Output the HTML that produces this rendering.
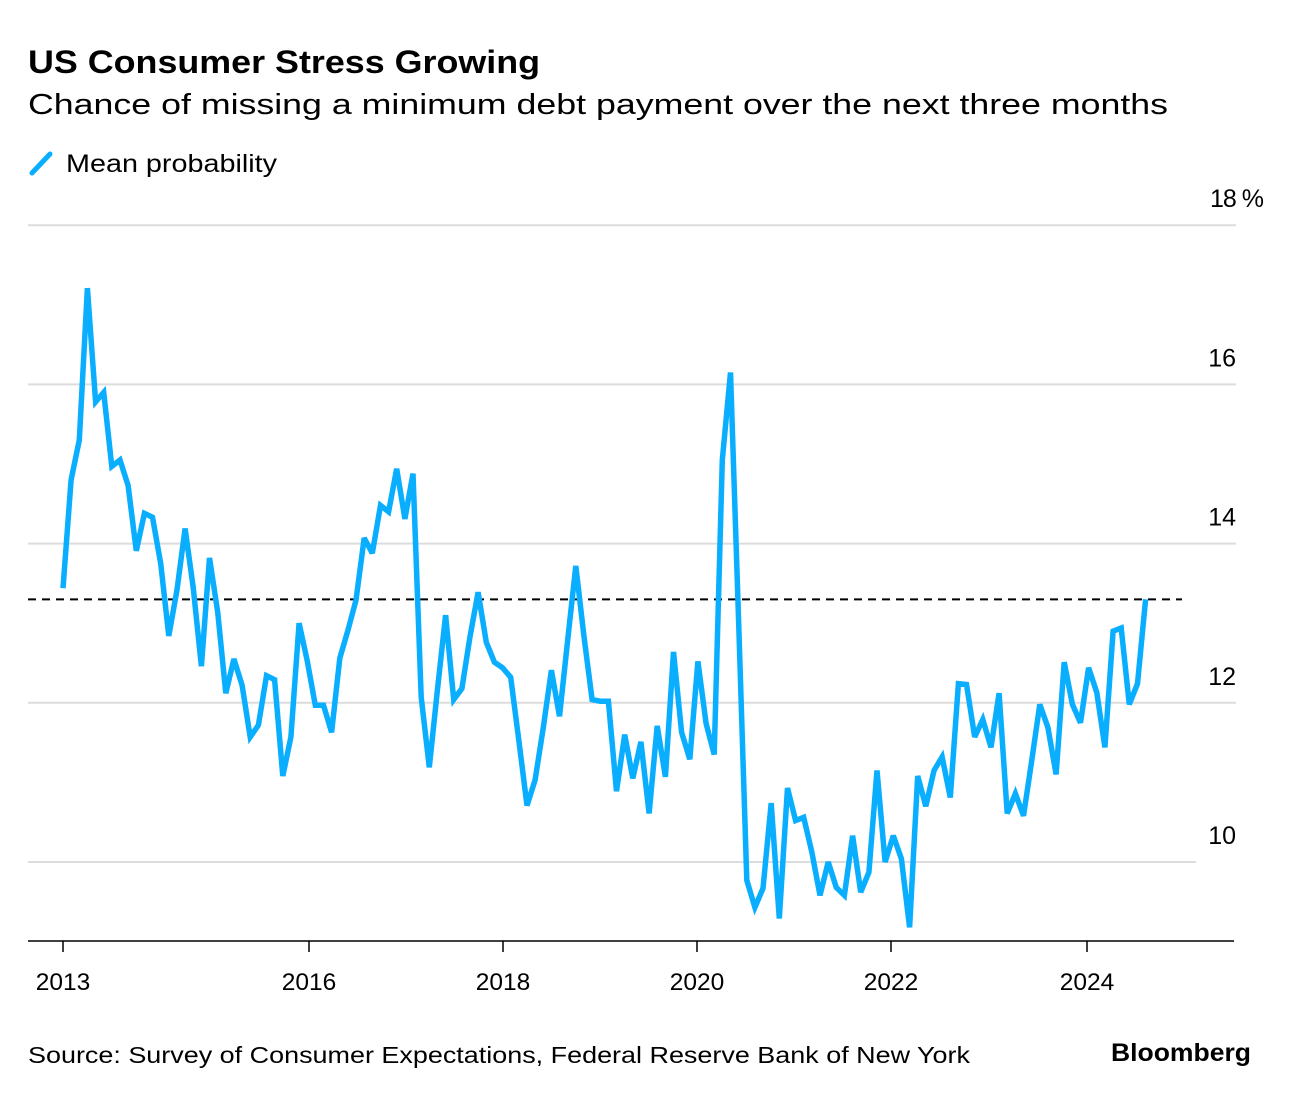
<!DOCTYPE html>
<html><head><meta charset="utf-8"><style>
html,body{margin:0;padding:0;background:#fff;}
svg{display:block;font-family:"Liberation Sans",Arial,sans-serif;}
</style></head><body>
<svg id="chart" width="1291" height="1096" viewBox="0 0 1291 1096">
<text x="28" y="73" font-size="32" font-weight="bold" fill="#000" textLength="512" lengthAdjust="spacingAndGlyphs">US Consumer Stress Growing</text>
<text x="28" y="114" font-size="29" fill="#000" textLength="1140" lengthAdjust="spacingAndGlyphs">Chance of missing a minimum debt payment over the next three months</text>
<g>
<line x1="32" y1="173" x2="50" y2="154" stroke="#0aaeff" stroke-width="5" stroke-linecap="round"/>
<text x="66" y="172" font-size="25" fill="#000" textLength="211" lengthAdjust="spacingAndGlyphs">Mean probability</text>
</g>
<g id="grid"></g>
<g id="ylabels"></g>
<g id="xaxis"></g>
<g id="plot"></g>
<text x="28" y="1063" font-size="23" fill="#000" textLength="942" lengthAdjust="spacingAndGlyphs">Source: Survey of Consumer Expectations, Federal Reserve Bank of New York</text>
<text x="1111" y="1061" font-size="25" font-weight="bold" fill="#000" textLength="140" lengthAdjust="spacingAndGlyphs">Bloomberg</text>
</svg>
<script>
// monthly series starting June 2013
const startYear = 2013, startMonth = 5; // June (0-based)
const meanProbability = [13.44,14.80,15.30,17.21,15.78,15.90,14.97,15.05,14.73,13.91,14.38,14.33,13.75,12.84,13.42,14.19,13.45,12.46,13.82,13.14,12.12,12.55,12.22,11.57,11.72,12.34,12.29,11.08,11.57,13.00,12.53,11.97,11.97,11.63,12.56,12.91,13.29,14.07,13.88,14.48,14.40,14.94,14.31,14.88,12.07,11.19,12.16,13.10,12.04,12.18,12.83,13.39,12.76,12.51,12.44,12.32,11.53,10.71,11.03,11.69,12.41,11.83,12.79,13.72,12.83,12.04,12.02,12.02,10.89,11.60,11.05,11.51,10.61,11.71,11.07,12.64,11.63,11.29,12.52,11.74,11.35,15.05,16.15,13.03,9.77,9.43,9.67,10.74,9.29,10.93,10.52,10.56,10.12,9.58,10.00,9.68,9.58,10.33,9.62,9.87,11.15,10.00,10.33,10.04,9.18,11.08,10.70,11.15,11.32,10.81,12.24,12.23,11.57,11.79,11.44,12.12,10.61,10.86,10.58,11.27,11.98,11.69,11.10,12.51,11.98,11.75,12.44,12.13,11.44,12.90,12.94,11.98,12.24,13.30];
const yTicks = [10,12,14,16,18];
const yTickLabels = ["10","12","14","16","18 %"];
const xTickYears = [2013,2016,2018,2020,2022,2024];
const xTickPositions = {2013:63,2016:309,2018:503,2020:697,2022:891,2024:1087};
const referenceValue = 13.3;

const NS = "http://www.w3.org/2000/svg";
const x0 = 63, step = 8.14;
function xScale(monthIndex){ return x0 + monthIndex*step; }
function yScale(v){ return 862 - (v-10)*79.6; }
function mk(tag, attrs, parent){ const e=document.createElementNS(NS,tag); for(const k in attrs) e.setAttribute(k,attrs[k]); parent.appendChild(e); return e; }

const grid=document.getElementById('grid'), yl=document.getElementById('ylabels'), xa=document.getElementById('xaxis'), plot=document.getElementById('plot');
yTicks.forEach((t,i)=>{
  const y=yScale(t);
  const ln=mk('line',{x1:28,x2:(t===10?1196:1236),y1:y,y2:y,stroke:'#dcdcdc','stroke-width':2},grid);
  
  
  const tx=mk('text',{x:1236,y:y-18,'font-size':25,'text-anchor':'end',fill:'#000'},yl);
  tx.textContent=yTickLabels[i];
  if(t===18){ tx.setAttribute('x',1263); tx.setAttribute('letter-spacing','-1'); }
  
  
});
const base=mk('line',{x1:28,x2:1234,y1:941,y2:941,stroke:'#000','stroke-width':1.5},xa);


xTickYears.forEach(yr=>{
  const x=xTickPositions[yr];
  const tk=mk('line',{x1:x,x2:x,y1:941,y2:952,stroke:'#000','stroke-width':1.5},xa);
  
  
  const tx=mk('text',{x:x,y:990,'font-size':24.5,'text-anchor':'middle',fill:'#000'},xa);
  tx.textContent=yr;
  
  
});
const ry=yScale(referenceValue);
const ref=mk('line',{x1:28,x2:1182,y1:ry,y2:ry,stroke:'#000','stroke-width':2,'stroke-dasharray':'8,6'},plot);


const pts=meanProbability.map((v,i)=>xScale(i).toFixed(1)+','+yScale(v).toFixed(1)).join(' ');
const pl=mk('polyline',{points:pts,fill:'none',stroke:'#0aaeff','stroke-width':5.5,'stroke-linejoin':'miter','stroke-miterlimit':3},plot);


</script>
</body></html>
